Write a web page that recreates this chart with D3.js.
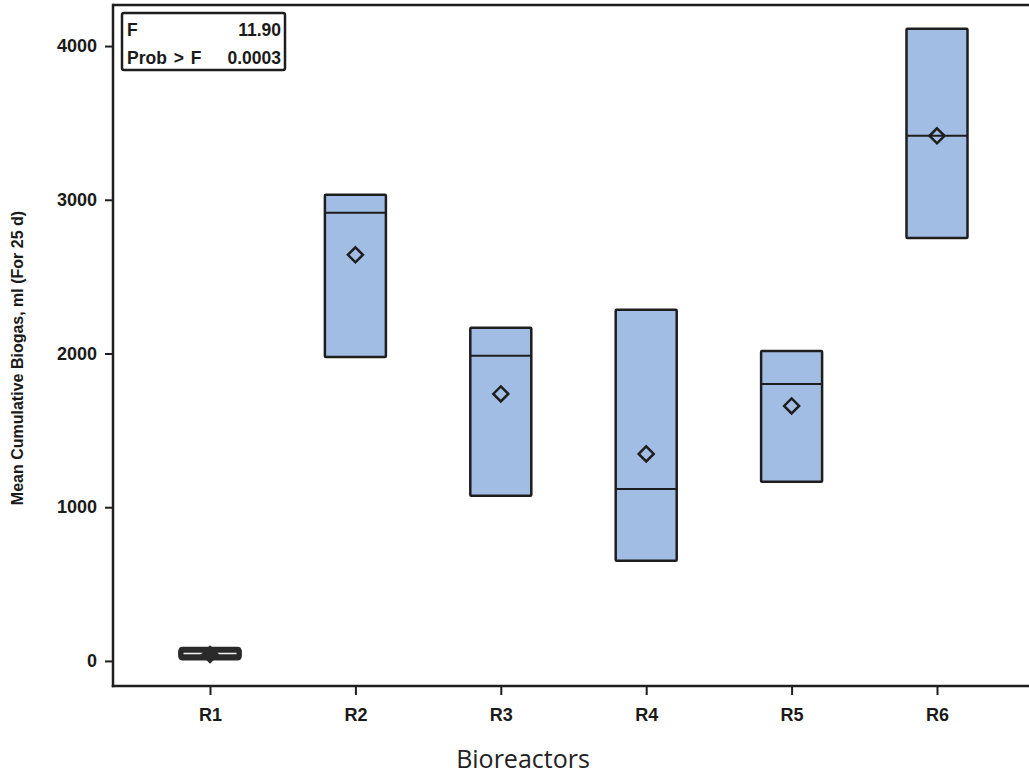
<!DOCTYPE html>
<html>
<head>
<meta charset="utf-8">
<script src="https://cdn.jsdelivr.net/npm/d3@7"></script>
<style>
  html, body { margin: 0; padding: 0; background: #fff; }
  svg { display: block; }
  .lbl { font-family: "Liberation Sans", Arial, sans-serif; font-weight: bold; fill: #1a1a1a; }
</style>
</head>
<body>
<svg id="chart" width="1029" height="777"></svg>
<script>
// Bioreactor summary: quartile boxes, median line and mean diamond
const categories = ["R1", "R2", "R3", "R4", "R5", "R6"];
const lowerQuartile = [25, 1978, 1074, 651, 1165, 2752];
const upperQuartile = [70, 3032, 2167, 2284, 2017, 4112];
const medianValue   = [48, 2915, 1985, 1119, 1802, 3416];
const meanValue     = [42, 2642, 1737, 1347, 1659, 3416];
const yTicks = [0, 1000, 2000, 3000, 4000];
const statLabels = ["F", "Prob > F"];
const statValues = ["11.90", "0.0003"];

const svg = d3.select("#chart");
const plot = { left: 113, right: 1040, top: 5, bottom: 686 };

const x = d3.scalePoint().domain(categories).range([210, 937]);
const y = d3.scaleLinear().domain([-163, 4267]).range([plot.bottom, plot.top]);

const ink = "#1e1e1e";
const boxFill = "#a2bde3";
const boxW = 61;

// frame: top line plus the two axes
svg.append("line")
  .attr("x1", plot.left).attr("x2", plot.right)
  .attr("y1", plot.top).attr("y2", plot.top)
  .attr("stroke", ink).attr("stroke-width", 2.5);

// y axis
const yAxis = svg.append("g")
  .attr("transform", `translate(${plot.left},0)`)
  .call(d3.axisLeft(y).tickValues(yTicks).tickSize(8).tickPadding(8).tickFormat(d3.format("d")));
yAxis.select(".domain").remove();
yAxis.attr("font-family", null).attr("font-size", null);
yAxis.selectAll(".tick line").attr("stroke", ink).attr("stroke-width", 2);
yAxis.selectAll(".tick text").attr("class", "lbl").style("font-size", "18px");
svg.append("line")
  .attr("x1", plot.left).attr("x2", plot.left)
  .attr("y1", plot.top - 1.25).attr("y2", plot.bottom + 1.25)
  .attr("stroke", ink).attr("stroke-width", 2.5);

// x axis
const xAxis = svg.append("g")
  .attr("transform", `translate(0,${plot.bottom})`)
  .call(d3.axisBottom(x).tickSize(9).tickPadding(13));
xAxis.select(".domain").remove();
xAxis.attr("font-family", null).attr("font-size", null);
xAxis.selectAll(".tick line").attr("stroke", ink).attr("stroke-width", 2);
xAxis.selectAll(".tick text").attr("class", "lbl").style("font-size", "18px");
svg.append("line")
  .attr("x1", plot.left - 1.25).attr("x2", plot.right)
  .attr("y1", plot.bottom).attr("y2", plot.bottom)
  .attr("stroke", ink).attr("stroke-width", 2.5);

// boxes
const rows = categories.map((c, i) => ({
  c, lo: lowerQuartile[i], hi: upperQuartile[i], med: medianValue[i], mean: meanValue[i]
}));

const g = svg.append("g");
g.selectAll("rect.box").data(rows).join("rect")
  .attr("class", "box")
  .attr("x", d => x(d.c) - boxW / 2)
  .attr("width", boxW)
  .attr("y", d => y(d.hi))
  .attr("height", d => y(d.lo) - y(d.hi))
  .attr("fill", boxFill)
  .attr("stroke", ink).attr("stroke-width", 2.5)
  .attr("rx", 1);

g.selectAll("line.med").data(rows).join("line")
  .attr("class", "med")
  .attr("x1", d => x(d.c) - boxW / 2 + (d.c === "R1" ? 4 : 0))
  .attr("x2", d => x(d.c) + boxW / 2 - (d.c === "R1" ? 4 : 0))
  .attr("y1", d => y(d.med)).attr("y2", d => y(d.med))
  .attr("stroke", d => d.c === "R1" ? "#f4f4f4" : ink)
  .attr("stroke-width", d => d.c === "R1" ? 1.5 : 2);

// R1 box is thin: draw it as a heavy rounded bar
const r1 = rows[0];
g.insert("rect", "line.med")
  .attr("x", x(r1.c) - boxW / 2 - 1).attr("width", boxW + 2)
  .attr("y", y(r1.hi) - 3.5).attr("height", y(r1.lo) - y(r1.hi) + 7)
  .attr("rx", 4).attr("fill", "#2a2a2a");

// mean diamonds
const dm = 7.5;
g.selectAll("path.mean").data(rows).join("path")
  .attr("class", "mean")
  .attr("d", d => {
    const cx = x(d.c), cy = y(d.mean);
    return `M${cx},${cy - dm}L${cx + dm},${cy}L${cx},${cy + dm}L${cx - dm},${cy}Z`;
  })
  .attr("fill", d => d.c === "R1" ? "#2a2a2a" : "none")
  .attr("stroke", d => d.c === "R1" ? "#2a2a2a" : ink)
  .attr("stroke-width", 2.5);

// statistics box
const sb = svg.append("g");
sb.append("rect")
  .attr("x", 122).attr("y", 13).attr("width", 163).attr("height", 57)
  .attr("fill", "#fff").attr("stroke", ink).attr("stroke-width", 2.5).attr("rx", 2);
statLabels.forEach((t, i) => {
  sb.append("text").attr("class", "lbl").attr("x", 127).attr("y", 36 + i * 28)
    .style("font-size", "17.5px").style("word-spacing", "2px").text(t);
  sb.append("text").attr("class", "lbl").attr("x", 281).attr("y", 36 + i * 28)
    .attr("text-anchor", "end").style("font-size", "17.5px").text(statValues[i]);
});

// axis titles
svg.append("text")
  .attr("class", "lbl")
  .attr("transform", "translate(23,358) rotate(-90)")
  .attr("text-anchor", "middle")
  .style("font-size", "16px")
  .text("Mean Cumulative Biogas, ml (For 25 d)");

svg.append("text")
  .attr("x", 523).attr("y", 768)
  .attr("text-anchor", "middle")
  .style("font-family", "'Open Sans', 'Noto Sans', sans-serif")
  .style("font-size", "25px")
  .style("fill", "#222")
  .text("Bioreactors");
</script>
</body>
</html>
